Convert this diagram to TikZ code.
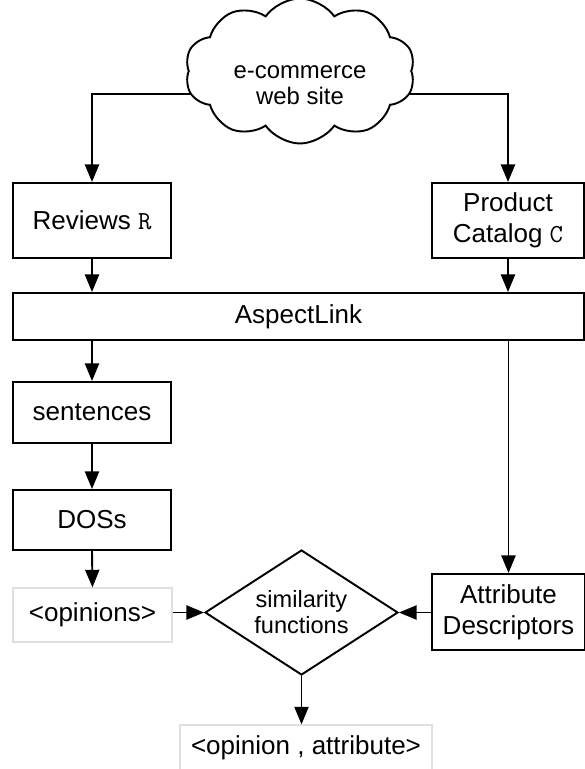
\documentclass[tikz,border=0pt]{standalone}
\usepackage{fontspec}
\setmainfont{Liberation Sans}
\usetikzlibrary{arrows.meta}
\usetikzlibrary{shapes.geometric, shapes.symbols}

\begin{document}
\begin{tikzpicture}[
      box/.style = {draw, line width = 1.1pt, align = center, inner sep = 0pt,
                    font = \fontsize{14.8}{17.5}\selectfont},
      soft-box/.style = {box, draw = black!12, line width = 0.7pt},
      flow/.style = {arrows = {-Triangle[length = 10pt, width = 8pt]}, line width = 1.1pt}]
            \useasboundingbox (0,0) rectangle (11.7,-15.38);
            % source of the data
            \node [cloud, cloud puffs = 10, cloud puff arc = 110, aspect = 2, draw, line width = 1.1pt,
                   minimum width = 4.6cm, minimum height = 2.9cm] (web-site) at (6.0,-1.42) {};
            \node [align = center, font = \fontsize{13.6}{14.7}\selectfont] (web-site-text)
                  at (6.0,-1.7) {e-commerce\\web site};
            \node [box, minimum width = 3.16cm, minimum height = 1.5cm] (reviews-box)
                  at (1.84,-4.41) {Reviews \texttt{R}};
            \node [box, minimum width = 3.04cm, minimum height = 1.5cm] (catalog-box)
                  at (10.16,-4.41) {Product\\Catalog \texttt{C}};
            \node [box, minimum width = 11.42cm, minimum height = 0.94cm] (aspect-box)
                  at (5.97,-6.33) {AspectLink};
            % left column
            \node [box, minimum width = 3.16cm, minimum height = 1.22cm] (sentences-box)
                  at (1.84,-8.25) {sentences};
            \node [box, minimum width = 3.16cm, minimum height = 1.2cm] (doss-box)
                  at (1.84,-10.4) {DOSs};
            \node [soft-box, minimum width = 3.18cm, minimum height = 1.08cm] (opinions-box)
                  at (1.85,-12.3) {<opinions>};
            % matching
            \node [diamond, draw, line width = 1.1pt, aspect = 1.55, inner sep = 0pt,
                   minimum width = 3.86cm, minimum height = 2.5cm, align = center,
                   font = \fontsize{13.4}{14.8}\selectfont] (similarity) at (6.03,-12.25) {similarity\\functions};
            \node [box, minimum width = 3.06cm, minimum height = 1.52cm] (attribute-box)
                  at (10.17,-12.24) {Attribute\\Descriptors};
            \node [soft-box, minimum width = 5.04cm, minimum height = 0.9cm] (result-box)
                  at (6.12,-14.95) {<opinion , attribute>};
            % connectors
            \draw [flow] (web-site.192) -| (reviews-box.north);
            \draw [flow] (web-site.348) -| (catalog-box.north);
            \draw [flow] (reviews-box.south) -- (reviews-box.south |- aspect-box.north);
            \draw [flow] (catalog-box.south) -- (catalog-box.south |- aspect-box.north);
            \draw [flow] (sentences-box.north |- aspect-box.south) -- (sentences-box.north);
            \draw [flow] (sentences-box.south) -- (doss-box.north);
            \draw [flow] (doss-box.south) -- (opinions-box.north);
            \draw [flow] (attribute-box.north |- aspect-box.south) -- (attribute-box.north);
            \draw [flow] (opinions-box.east |- similarity.west) -- (similarity.west);
            \draw [flow] (attribute-box.west |- similarity.east) -- (similarity.east);
            \draw [flow] (similarity.south) -- (similarity.south |- result-box.north);
         \end{tikzpicture}
\end{document}
